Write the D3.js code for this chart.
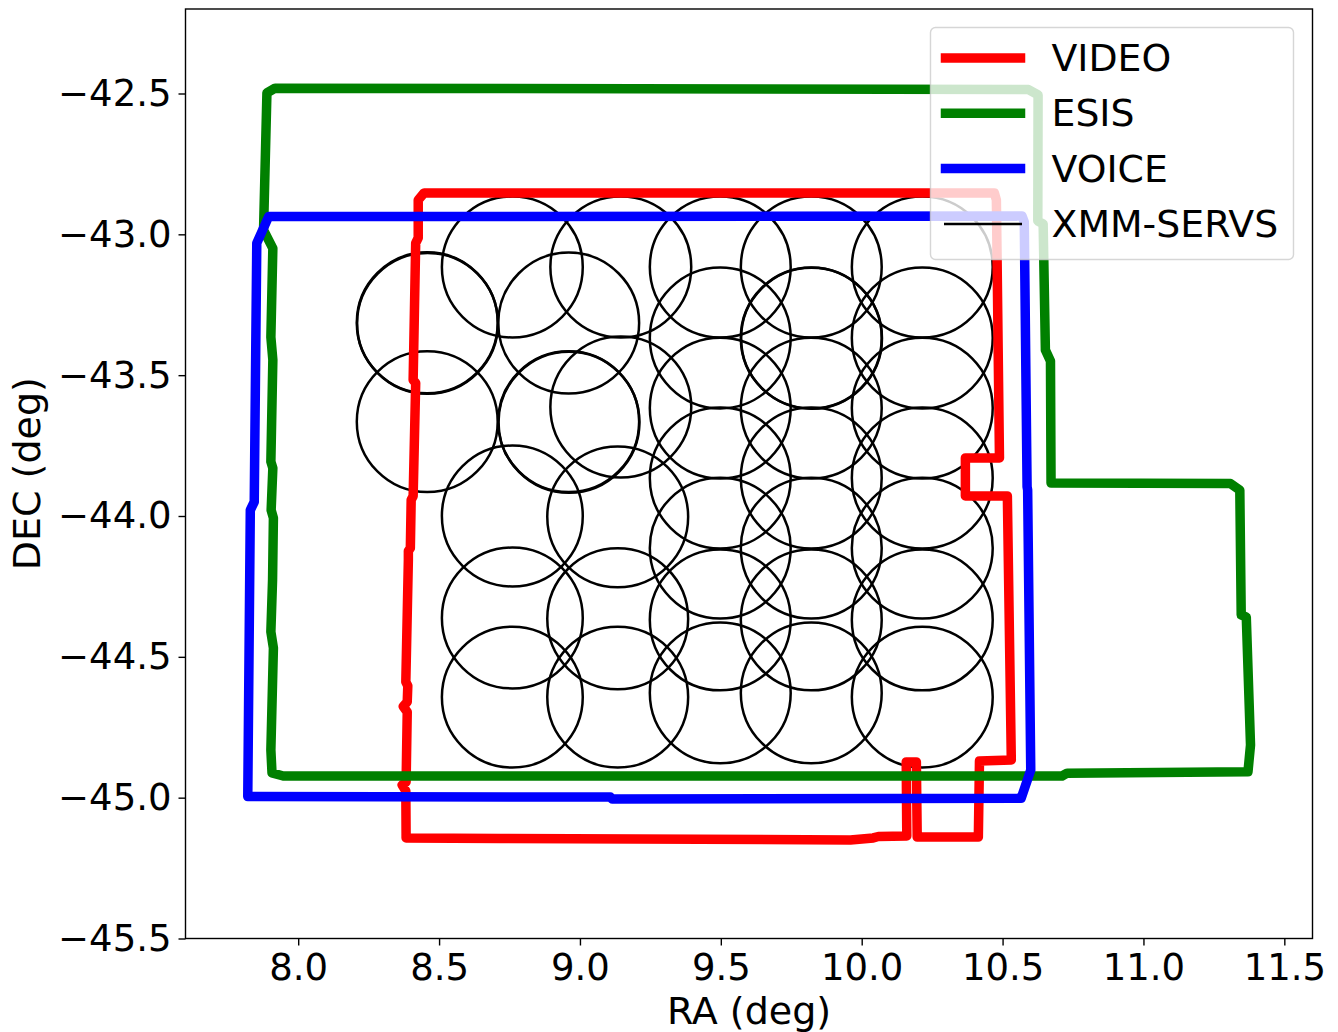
<!DOCTYPE html>
<html>
<head>
<meta charset="utf-8">
<script src="https://cdn.jsdelivr.net/npm/d3@7"></script>
<style>
  body { margin: 0; background: #fff; }
  text { font-family: "DejaVu Sans", sans-serif; fill: #000; }
</style>
</head>
<body>
<script>
// field outlines, [RA, DEC] in degrees
let videoField = [
  [8.447,-42.853],[10.471,-42.853],[10.478,-42.878],[10.489,-43.794],[10.368,-43.794],
  [10.368,-43.929],[10.517,-43.929],[10.531,-44.866],[10.418,-44.870],[10.414,-45.140],
  [10.197,-45.140],[10.194,-44.873],[10.158,-44.873],[10.160,-45.136],[10.059,-45.138],
  [10.041,-45.143],[9.960,-45.150],[8.717,-45.145],[8.383,-45.143],[8.382,-44.976],
  [8.369,-44.955],[8.383,-44.944],[8.387,-44.696],[8.373,-44.676],[8.387,-44.660],
  [8.389,-44.603],[8.382,-44.589],[8.391,-44.156],[8.391,-44.124],[8.398,-44.114],
  [8.401,-43.943],[8.408,-43.929],[8.417,-43.528],[8.408,-43.517],[8.417,-43.031],
  [8.426,-43.013],[8.426,-42.878]
];

let esisField = [
  [7.918,-42.481],[10.592,-42.486],[10.626,-42.505],[10.625,-42.953],[10.644,-42.963],
  [10.652,-43.411],[10.670,-43.450],[10.672,-43.883],[11.309,-43.885],[11.342,-43.908],
  [11.347,-44.351],[11.365,-44.359],[11.380,-44.813],[11.371,-44.908],[10.729,-44.913],
  [10.711,-44.923],[7.947,-44.923],[7.907,-44.912],[7.903,-44.831],[7.912,-44.469],
  [7.903,-44.411],[7.909,-44.227],[7.912,-44.007],[7.904,-43.979],[7.910,-43.830],
  [7.903,-43.807],[7.910,-43.446],[7.903,-43.365],[7.910,-43.050],[7.877,-42.985],
  [7.889,-42.498]
];

let voiceField = [
  [7.895,-42.937],[10.569,-42.935],[10.577,-42.956],[10.587,-43.896],[10.589,-43.908],
  [10.600,-44.902],[10.566,-45.002],[9.115,-45.005],[9.108,-44.998],[7.821,-44.996],
  [7.830,-43.979],[7.844,-43.950],[7.853,-43.031]
];

// XMM-SERVS pointings, some were observed twice
let pointingRadius = 0.25;
let xmmPointings = [
  [8.458,-43.314],[8.459,-43.316],[8.458,-43.665],
  [8.760,-43.116],[8.760,-44.000],[8.760,-44.362],[8.760,-44.643],
  [8.960,-43.315],[8.960,-43.665],[8.961,-43.667],
  [9.145,-43.116],[9.145,-43.613],
  [9.134,-44.003],[9.134,-44.365],[9.134,-44.643],
  [9.498,-43.116],[9.498,-43.368],[9.498,-43.617],[9.498,-43.865],[9.498,-44.114],[9.498,-44.369],[9.498,-44.628],
  [9.821,-43.116],[9.821,-43.368],[9.822,-43.369],[9.821,-43.617],[9.821,-43.865],[9.821,-44.114],[9.821,-44.369],[9.821,-44.628],
  [10.215,-43.116],[10.215,-43.368],[10.215,-43.617],[10.215,-43.865],[10.215,-44.114],[10.215,-44.369],[10.215,-44.643]
];

let raTicks = [8, 8.5, 9, 9.5, 10, 10.5, 11, 11.5];
let decTicks = [-45.5, -45, -44.5, -44, -43.5, -43, -42.5];

let legendNames = ["VIDEO", "ESIS", "VOICE", "XMM-SERVS"];
let legendColors = ["#ff0000", "#008000", "#0000ff", "#000000"];

let margin = {top: 9, right: 25.5, bottom: 93.5, left: 185.5},
    width = 1338 - margin.left - margin.right,
    height = 1032 - margin.top - margin.bottom;

let svg = d3.select("body").append("svg")
    .attr("width", 1338)
    .attr("height", 1032)
    .style("display", "block");

let g = svg.append("g")
    .attr("transform", `translate(${margin.left}, ${margin.top})`);

let xScaler = d3.scaleLinear().domain([7.6, 11.6]).range([0, width]);
let yScaler = d3.scaleLinear().domain([-45.5, -42.2]).range([height, 0]);

let lineMaker = d3.line()
    .x(d => xScaler(d[0]))
    .y(d => yScaler(d[1]))
    .curve(d3.curveLinearClosed);

// circles go underneath the outlines
g.selectAll(".pointing")
    .data(xmmPointings)
    .enter()
    .append("circle")
        .attr("class", "pointing")
        .attr("cx", d => xScaler(d[0]))
        .attr("cy", d => yScaler(d[1]))
        .attr("r", xScaler(pointingRadius) - xScaler(0))
        .style("fill", "none")
        .style("stroke", "#000")
        .style("stroke-width", 2.5);

[videoField, esisField, voiceField].forEach((field, i) => {
    g.append("path")
        .attr("d", lineMaker(field))
        .style("fill", "none")
        .style("stroke", legendColors[i])
        .style("stroke-width", 9.5)
        .style("stroke-linejoin", "round");
});

// axes
let xAxis = g.append("g")
    .attr("transform", `translate(0, ${height})`)
    .call(d3.axisBottom(xScaler).tickValues(raTicks).tickFormat(d3.format(".1f")).tickSize(7).tickPadding(8.5));

let yAxis = g.append("g")
    .call(d3.axisLeft(yScaler).tickValues(decTicks).tickFormat(d3.format(".1f")).tickSize(7).tickPadding(7));

[xAxis, yAxis].forEach(a => {
    a.select(".domain").remove();
    a.selectAll("text").style("font-size", "37px").style("font-family", '"DejaVu Sans"');
    a.selectAll("line").style("stroke", "#000").style("stroke-width", 1.4);
});

g.append("rect")
    .attr("width", width)
    .attr("height", height)
    .style("fill", "none")
    .style("stroke", "#000")
    .style("stroke-width", 1.4);

g.append("text")
    .attr("x", width / 2)
    .attr("y", height + 85)
    .style("text-anchor", "middle")
    .style("font-size", "38px")
    .text("RA (deg)");

g.append("text")
    .attr("transform", `translate(-146, ${height / 2}) rotate(-90)`)
    .style("text-anchor", "middle")
    .style("font-size", "38px")
    .text("DEC (deg)");

// legend
svg.append("rect")
    .attr("x", 930.5)
    .attr("y", 27.5)
    .attr("width", 363)
    .attr("height", 232)
    .attr("rx", 5)
    .style("fill", "#fff")
    .style("fill-opacity", 0.8)
    .style("stroke", "#ccc")
    .style("stroke-opacity", 0.8)
    .style("stroke-width", 1.4);

let legendArr = svg.selectAll(".legend")
    .data(legendNames)
    .enter()
    .append("g")
        .attr("class", "legend")
        .attr("transform", (d, i) => `translate(0, ${58 + i * 55.3})`);

legendArr.append("line")
    .attr("x1", (d, i) => i < 3 ? 945.5 : 944)
    .attr("x2", (d, i) => i < 3 ? 1020.5 : 1022)
    .style("stroke", (d, i) => legendColors[i])
    .style("stroke-width", (d, i) => i < 3 ? 9.5 : 2.5)
    .style("stroke-linecap", (d, i) => i < 3 ? "square" : "butt");

legendArr.append("text")
    .attr("x", 1051.5)
    .attr("y", 13)
    .style("font-size", "37.8px")
    .text(d => d);
</script>
</body>
</html>
